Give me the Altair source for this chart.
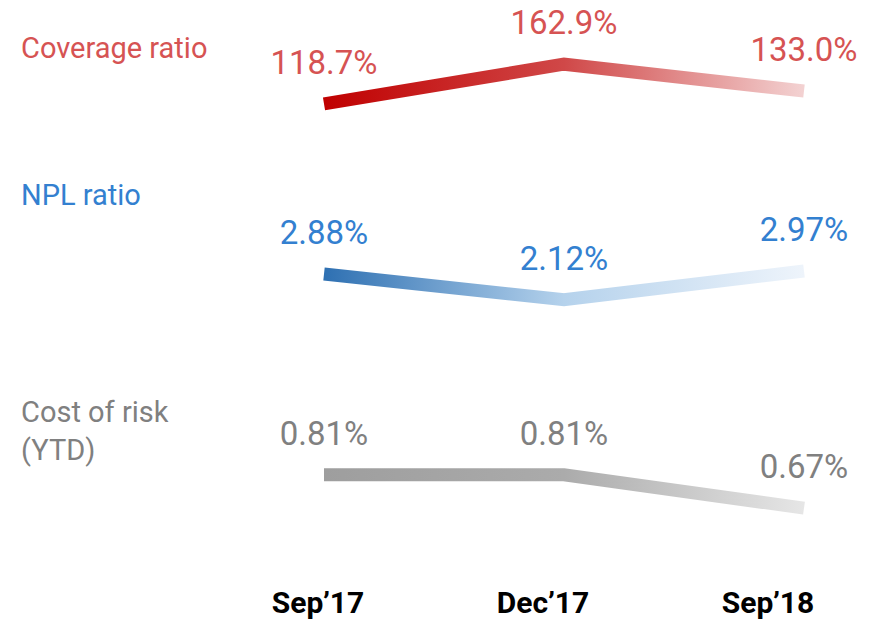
import altair as alt
import pandas as pd

periods = ["Sep’17", "Dec’17", "Sep’18"]

coverage = [118.7, 162.9, 133.0]
npl = [2.88, 2.12, 2.97]
cost_of_risk = [0.81, 0.81, 0.67]

series_names = ["Coverage ratio", "NPL ratio", "Cost of risk\n(YTD)"]

FONT = "Roboto"


def grad(colors):
    n = len(colors)
    return alt.Gradient(
        gradient="linear",
        stops=[alt.GradientStop(color=c, offset=i / (n - 1)) for i, c in enumerate(colors)],
        x1=0, x2=1, y1=0, y2=0,
    )


def series_layer(values, decimals, domain, colors, text_color, name, name_y, name_x=13):
    df = pd.DataFrame({
        "period": periods,
        "value": values,
        "label": [f"{v:.{decimals}f}%" for v in values],
    })
    base = alt.Chart(df).encode(
        x=alt.X("period:O", sort=periods,
                scale=alt.Scale(type="point", domain=periods, range=[316, 796], padding=0),
                axis=None),
        y=alt.Y("value:Q", scale=alt.Scale(domain=domain, nice=False, zero=False), axis=None),
    )
    line = base.mark_line(stroke=grad(colors), strokeWidth=13,
                          strokeCap="butt", strokeJoin="miter")
    text = base.mark_text(font=FONT, fontSize=33, color=text_color, align="center",
                          baseline="alphabetic", dy=-30).encode(text="label:N")
    nm = alt.Chart(pd.DataFrame({"name": [name]})).mark_text(
        font=FONT, fontSize=29, color=text_color, align="left", baseline="alphabetic",
        lineBreak="\n", lineHeight=38,
    ).encode(x=alt.value(name_x), y=alt.value(name_y), text="name:N")
    return alt.layer(line, text, nm)


cov_layer = series_layer(coverage, 1, [-456.9, 214.2],
                         ["#C00000", "#D04848", "#F3D2D2"], "#D65353",
                         series_names[0], 40)
npl_layer = series_layer(npl, 2, [-7.356, 10.409],
                         ["#2E70B2", "#B5D2EC", "#EEF4FB"], "#3380D0",
                         series_names[1], 187)
cost_layer = series_layer(cost_of_risk, 2, [0.1937, 2.7209],
                          ["#9E9E9E", "#ABABAB", "#E6E6E6"], "#808080",
                          series_names[2], 404)

axis_labels = alt.Chart(pd.DataFrame({"period": periods})).mark_text(
    font=FONT, fontSize=30, fontWeight="bold", color="#000000",
    align="center", baseline="alphabetic",
).encode(
    x=alt.X("period:O", sort=periods,
            scale=alt.Scale(type="point", domain=periods, range=[310, 760], padding=0),
            axis=None),
    y=alt.value(595),
    text="period:N",
)

chart = alt.layer(cov_layer, npl_layer, cost_layer, axis_labels).resolve_scale(
    x="independent", y="independent"
).properties(
    width=859, height=604,
    padding={"top": 10, "left": 0, "right": 0, "bottom": 0},
    autosize=alt.AutoSizeParams(type="none"),
    background="white",
).configure_view(stroke=None)

chart.save("out.html", embed_options={"renderer": "svg", "actions": False})
